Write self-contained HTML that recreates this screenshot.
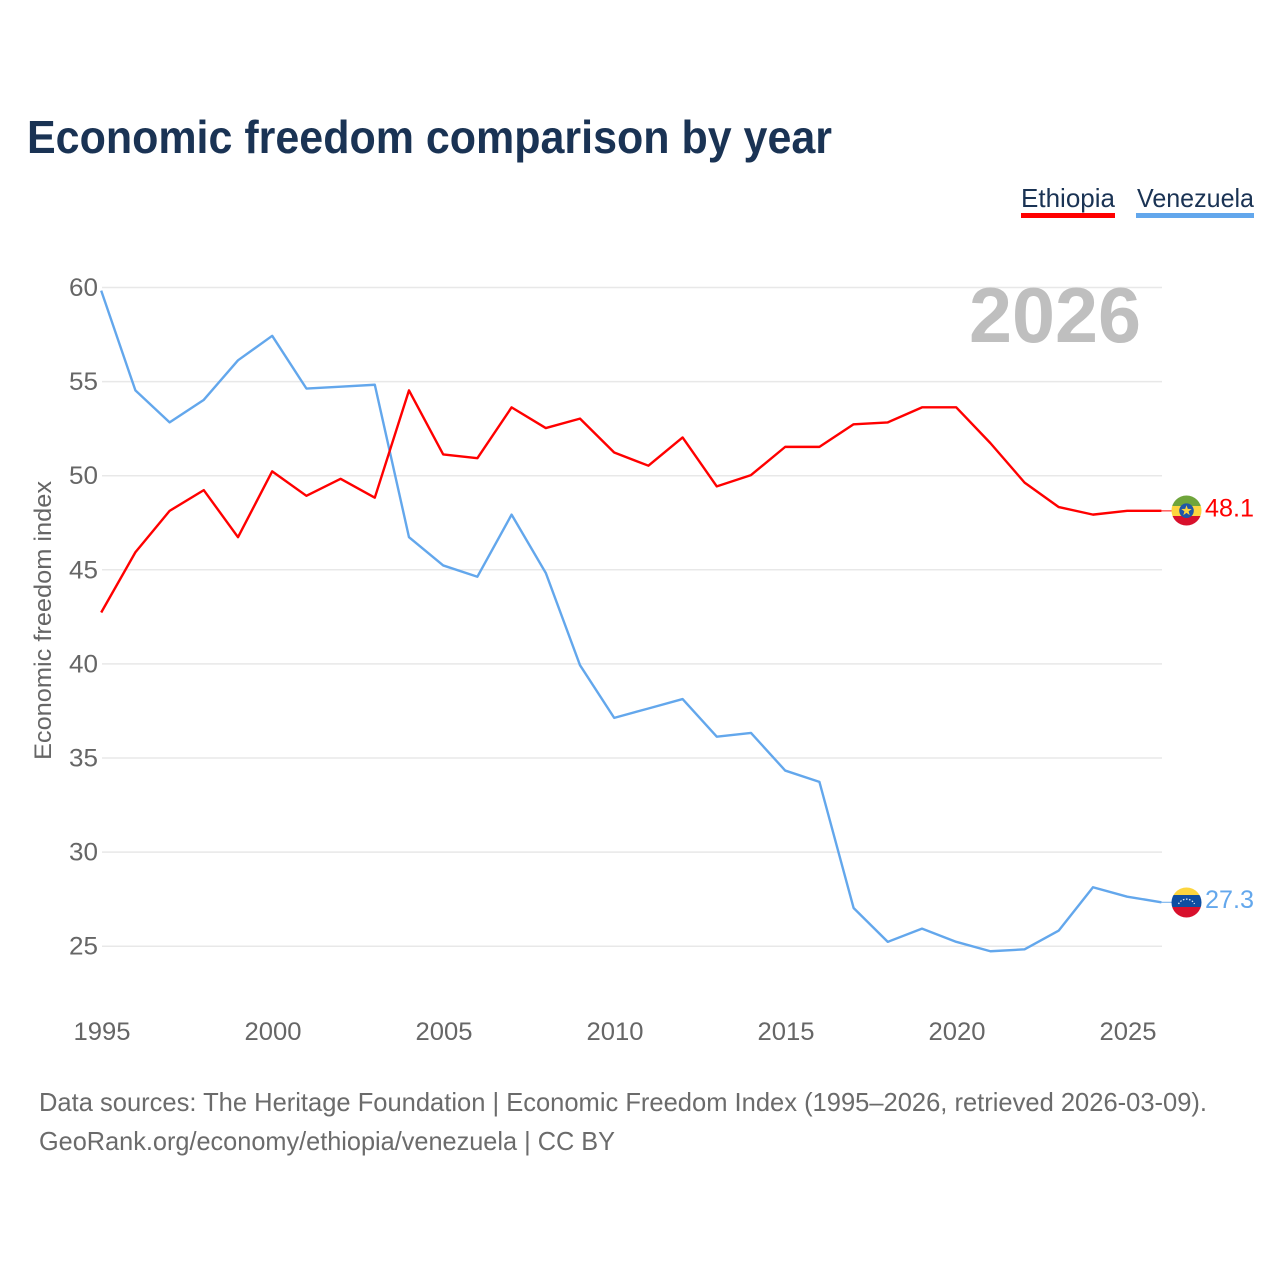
<!DOCTYPE html>
<html lang="en">
<head>
<meta charset="utf-8">
<title>Economic freedom comparison by year</title>
<style>
html,body{margin:0;padding:0;background:#fff;width:1280px;height:1280px;overflow:hidden}
svg{display:block}
text{font-family:"Liberation Sans",sans-serif}
</style>
</head>
<body>
<svg id="chart" xmlns="http://www.w3.org/2000/svg" width="1280" height="1280" viewBox="0 0 1280 1280">
  <rect x="0" y="0" width="1280" height="1280" fill="#ffffff"/>
  <text x="27" y="153" font-size="46" font-weight="700" fill="#1a3354" textLength="805" lengthAdjust="spacingAndGlyphs">Economic freedom comparison by year</text>

  <g>
    <g>
      <text x="1021" y="207" font-size="26" fill="#1a3354" textLength="94" lengthAdjust="spacingAndGlyphs">Ethiopia</text>
      <rect x="1021" y="213" width="94" height="5" fill="#ff0000"/>
    </g>
    <g>
      <text x="1137" y="207" font-size="26" fill="#1a3354" textLength="117" lengthAdjust="spacingAndGlyphs">Venezuela</text>
      <rect x="1136" y="213" width="118" height="5" fill="#63a7ec"/>
    </g>
  </g>

  <g id="grid"></g>
  <g id="yLabels"></g>
  <g id="xLabels"></g>

  <text x="969" y="342" font-size="78" font-weight="700" fill="#bfbfbf" textLength="172" lengthAdjust="spacingAndGlyphs">2026</text>
  <text transform="translate(51 760) rotate(-90)" font-size="24" fill="#666666" textLength="279" lengthAdjust="spacingAndGlyphs">Economic freedom index</text>

  <g id="series"></g>

  <defs>
    <clipPath id="flagClipEt"><circle cx="1186.5" cy="510.5" r="15"/></clipPath>
    <clipPath id="flagClipVe"><circle cx="1186.5" cy="902.5" r="15"/></clipPath>
  </defs>

  <g clip-path="url(#flagClipEt)">
    <rect x="1171" y="495" width="31" height="11" fill="#6fa53b"/>
    <rect x="1171" y="506" width="31" height="10" fill="#fcd53f"/>
    <rect x="1171" y="516" width="31" height="11" fill="#d8102c"/>
    <circle cx="1186.5" cy="510.7" r="7.3" fill="#1f56a8"/>
    <polygon points="1186.5,505.2 1187.8,508.9 1191.7,509 1188.6,511.4 1189.7,515.1 1186.5,512.9 1183.3,515.1 1184.4,511.4 1181.3,509 1185.2,508.9" fill="#fcd53f"/>
  </g>
  <g clip-path="url(#flagClipVe)">
    <rect x="1171" y="887" width="31" height="9" fill="#fcd53f"/>
    <rect x="1171" y="895" width="31" height="12" fill="#0f4ea1"/>
    <rect x="1171" y="907" width="31" height="11" fill="#d8102c"/>
    <path d="M1178.5 904 A9 9 0 0 1 1194.5 904" fill="none" stroke="#dfe9f6" stroke-width="1.3" stroke-dasharray="1.5 1.6"/>
  </g>

  <g id="endLabels"></g>

  <text x="39" y="1111" font-size="26" fill="#6b6b6b" textLength="1168" lengthAdjust="spacingAndGlyphs">Data sources: The Heritage Foundation | Economic Freedom Index (1995–2026, retrieved 2026-03-09).</text>
  <text x="39" y="1150" font-size="26" fill="#6b6b6b" textLength="576" lengthAdjust="spacingAndGlyphs">GeoRank.org/economy/ethiopia/venezuela | CC BY</text>
</svg>
<script>
const years = [1995,1996,1997,1998,1999,2000,2001,2002,2003,2004,2005,2006,2007,2008,2009,2010,2011,2012,2013,2014,2015,2016,2017,2018,2019,2020,2021,2022,2023,2024,2025,2026];
const ethiopiaValues = [42.7,45.9,48.1,49.2,46.7,50.2,48.9,49.8,48.8,54.5,51.1,50.9,53.6,52.5,53.0,51.2,50.5,52.0,49.4,50.0,51.5,51.5,52.7,52.8,53.6,53.6,51.7,49.6,48.3,47.9,48.1,48.1];
const venezuelaValues = [59.8,54.5,52.8,54.0,56.1,57.4,54.6,54.7,54.8,46.7,45.2,44.6,47.9,44.8,39.9,37.1,37.6,38.1,36.1,36.3,34.3,33.7,27.0,25.2,25.9,25.2,24.7,24.8,25.8,28.1,27.6,27.3];
const yTicks = [60,55,50,45,40,35,30,25];
const xTicks = [1995,2000,2005,2010,2015,2020,2025];

const NS = 'http://www.w3.org/2000/svg';
function xScale(year){ return 101.2 + (year - 1995) * 34.2; }
function yScale(value){ return 286.9 + (60 - value) * 18.82; }
function make(tag, attrs){
  const el = document.createElementNS(NS, tag);
  for (const k in attrs) el.setAttribute(k, attrs[k]);
  return el;
}

const grid = document.getElementById('grid');
const yLabels = document.getElementById('yLabels');
yTicks.forEach(function(t){
  const gy = yScale(t) + 0.6;
  const line = make('line', {x1:102, x2:1162, y1:gy, y2:gy, stroke:'#e8e8e8', 'stroke-width':1.5});
  
  
  grid.appendChild(line);
  const label = make('text', {x:98, y:gy + 8.5, 'text-anchor':'end', 'font-size':25, fill:'#666666', textLength:29, lengthAdjust:'spacingAndGlyphs'});
  
  
  label.textContent = t;
  yLabels.appendChild(label);
});

const xLabels = document.getElementById('xLabels');
xTicks.forEach(function(t){
  const label = make('text', {x:xScale(t) + 0.8, y:1040, 'text-anchor':'middle', 'font-size':25, fill:'#666666', textLength:57, lengthAdjust:'spacingAndGlyphs'});
  
  
  label.textContent = t;
  xLabels.appendChild(label);
});

function drawSeries(values, color, lineName, labelName){
  const pts = values.map(function(v, i){ return xScale(years[i]).toFixed(2) + ',' + yScale(v).toFixed(2); }).join(' ');
  const poly = make('polyline', {points:pts, fill:'none', stroke:color, 'stroke-width':2.4, 'stroke-linejoin':'round'});
  
  
  document.getElementById('series').appendChild(poly);
  const last = values[values.length - 1];
  const y = yScale(last);
  const connector = make('line', {x1:1161, x2:1172, y1:y, y2:y, stroke:color, 'stroke-width':1.2, opacity:0.8});
  
  
  document.getElementById('series').appendChild(connector);
  const label = make('text', {x:1205, y:y + 5.5, 'font-size':25, fill:color, textLength:49, lengthAdjust:'spacingAndGlyphs'});
  
  
  label.textContent = last.toFixed(1);
  document.getElementById('endLabels').appendChild(label);
}
drawSeries(venezuelaValues, '#63a7ec', 'venezuela-line', 'venezuela-end-value');
drawSeries(ethiopiaValues, '#ff0000', 'ethiopia-line', 'ethiopia-end-value');
</script>
</body>
</html>
